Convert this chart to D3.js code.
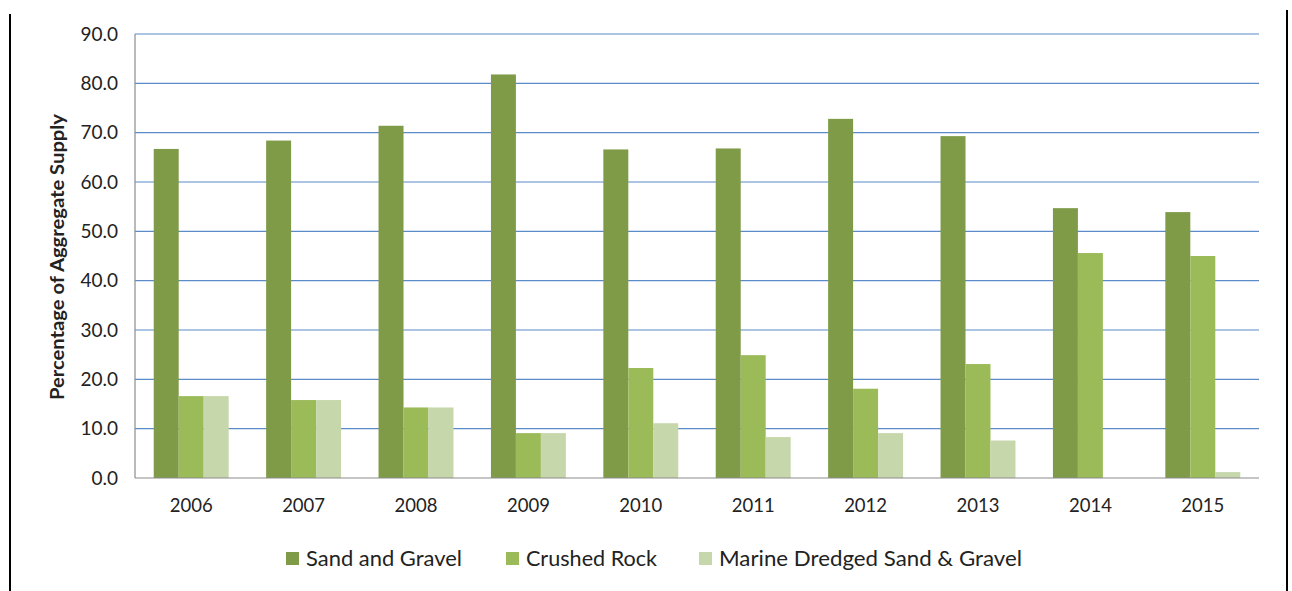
<!DOCTYPE html>
<html>
<head>
<meta charset="utf-8">
<script src="https://cdn.jsdelivr.net/npm/d3@7"></script>
<style>
  body { margin: 0; background: #fff; }
  svg text { font-family: Lato, "Open Sans", sans-serif; fill: #222; }
</style>
</head>
<body>
<div id="chart"></div>
<script>
// Aggregate supply shares by year
const years = ["2006", "2007", "2008", "2009", "2010", "2011", "2012", "2013", "2014", "2015"];
const sandGravel = [66.7, 68.4, 71.4, 81.8, 66.6, 66.8, 72.8, 69.3, 54.7, 53.9];
const crushedRock = [16.6, 15.8, 14.3, 9.1, 22.3, 24.9, 18.1, 23.1, 45.6, 45.0];
const marineDredged = [16.6, 15.8, 14.3, 9.1, 11.1, 8.3, 9.1, 7.6, 0, 1.2];
const seriesNames = ["Sand and Gravel", "Crushed Rock", "Marine Dredged Sand & Gravel"];
const yTicks = [0, 10, 20, 30, 40, 50, 60, 70, 80, 90];

const colors = ["#7f9b48", "#9bbb59", "#c6d7ac"];
const seriesValues = [sandGravel, crushedRock, marineDredged];

const width = 1292, height = 591;
const margin = { left: 135, right: 33, top: 34, bottom: 113 };

const svg = d3.select("#chart").append("svg")
    .attr("width", width)
    .attr("height", height);

// black frame lines at left and right
svg.append("line").attr("x1", 10).attr("x2", 10).attr("y1", 14).attr("y2", height)
    .attr("stroke", "#000").attr("stroke-width", 2);
svg.append("line").attr("x1", 1287).attr("x2", 1287).attr("y1", 10).attr("y2", height)
    .attr("stroke", "#000").attr("stroke-width", 2);

const x0 = d3.scaleBand()
    .domain(years)
    .range([margin.left, width - margin.right])
    .paddingInner(0)
    .paddingOuter(0);

const x1 = d3.scaleBand()
    .domain(d3.range(3))
    .range([0, x0.bandwidth()])
    .paddingOuter(0.75)
    .paddingInner(0);

const y = d3.scaleLinear()
    .domain([0, 90])
    .range([height - margin.bottom, margin.top]);

// gridlines
svg.append("g")
    .selectAll("line")
    .data(yTicks.filter(d => d > 0))
    .enter().append("line")
    .attr("x1", margin.left)
    .attr("x2", width - margin.right)
    .attr("y1", d => y(d))
    .attr("y2", d => y(d))
    .attr("stroke", "#5b8cc8")
    .attr("stroke-width", 1.2);

// y labels
svg.append("g")
    .selectAll("text")
    .data(yTicks)
    .enter().append("text")
    .attr("x", 118)
    .attr("y", d => y(d) + 6.5)
    .attr("text-anchor", "end")
    .attr("font-size", "19px")
    .text(d => d.toFixed(1));

// bars
const groups = svg.append("g")
    .selectAll("g")
    .data(years)
    .enter().append("g")
    .attr("transform", d => `translate(${x0(d)},0)`);

groups.selectAll("rect")
    .data((d, i) => seriesValues.map((vals, s) => ({ s: s, v: vals[i] })))
    .enter().append("rect")
    .attr("x", d => x1(d.s))
    .attr("width", x1.bandwidth())
    .attr("y", d => y(d.v))
    .attr("height", d => y(0) - y(d.v))
    .attr("fill", d => colors[d.s]);

// axis lines
svg.append("line")
    .attr("x1", margin.left).attr("x2", margin.left)
    .attr("y1", y(90)).attr("y2", y(0))
    .attr("stroke", "#8c8c8c").attr("stroke-width", 1.2);
svg.append("line")
    .attr("x1", margin.left).attr("x2", width - margin.right)
    .attr("y1", y(0)).attr("y2", y(0))
    .attr("stroke", "#8c8c8c").attr("stroke-width", 1.2);

// x labels
svg.append("g")
    .selectAll("text")
    .data(years)
    .enter().append("text")
    .attr("x", d => x0(d) + x0.bandwidth() / 2)
    .attr("y", 512)
    .attr("text-anchor", "middle")
    .attr("font-size", "18.5px")
    .text(d => d);

// y axis title
svg.append("text")
    .attr("transform", `translate(64,257) rotate(-90)`)
    .attr("text-anchor", "middle")
    .attr("font-size", "19px")
    .attr("font-weight", "bold")
    .attr("textLength", 286)
    .attr("lengthAdjust", "spacingAndGlyphs")
    .text("Percentage of Aggregate Supply");

// legend
const legendX = [286, 506, 699];
const legendW = [156, 131, 303];
const legend = svg.append("g")
    .selectAll("g")
    .data(seriesNames)
    .enter().append("g")
    .attr("transform", (d, i) => `translate(${legendX[i]},552)`);

legend.append("rect")
    .attr("width", 13).attr("height", 13)
    .attr("fill", (d, i) => colors[i]);

legend.append("text")
    .attr("x", 20)
    .attr("y", 14)
    .attr("font-size", "22px")
    .attr("textLength", (d, i) => legendW[i])
    .attr("lengthAdjust", "spacingAndGlyphs")
    .text(d => d);
</script>
</body>
</html>
